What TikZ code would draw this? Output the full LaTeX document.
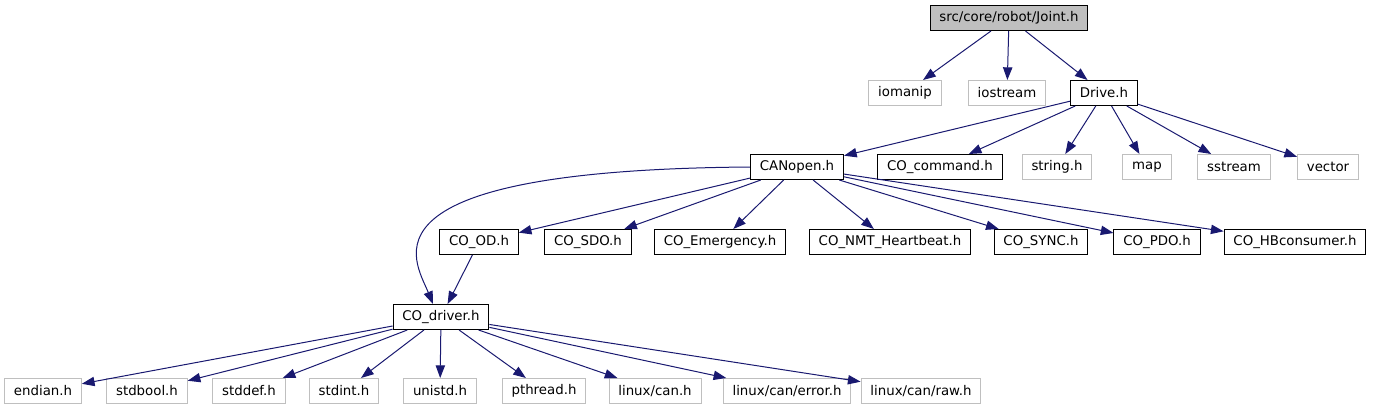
\documentclass[tikz,border=0pt]{standalone}
\usepackage{fontspec}
\setmainfont{DejaVu Sans}
\usetikzlibrary{arrows.meta}
\definecolor{Jedgecol}{HTML}{191970}
\definecolor{Jgray}{HTML}{BFBFBF}
\tikzset{Jbox/.style={draw=black,fill=white,line width=0.75pt,inner xsep=7pt,inner ysep=0pt,
           minimum height=18.75pt,font=\fontsize{10}{12}\selectfont},
         Jsys/.style={Jbox,draw=Jgray},
         Jtop/.style={Jbox,fill=Jgray},
         Jedge/.style={draw=Jedgecol,line width=0.75pt,-{Triangle[length=9.5pt,width=7pt]}}}
\begin{document}
\begin{tikzpicture}[x=0.75pt,y=-0.75pt]
    \useasboundingbox (0,0) rectangle (1373,411);
    \node[Jtop] (joint) at (1009,18) {src/core/robot/Joint.h};
    \foreach \x/\n/\l in {905/iomanip/iomanip,1007/iostream/iostream}
      {\node[Jsys] (\n) at (\x,93) {\l};}
    \node[Jbox] (drive) at (1104,93) {Drive.h};
    \foreach \x/\n/\l in {797/canopen/CANopen.h,940/cocommand/CO\_command.h}
      {\node[Jbox] (\n) at (\x,167) {\l};}
    \foreach \x/\n/\l in {1057/string/string.h,1147/map/map,1234/sstream/sstream,1328/vector/vector}
      {\node[Jsys] (\n) at (\x,167) {\l};}
    \foreach \x/\n/\l in {479/cood/CO\_OD.h,588/cosdo/CO\_SDO.h,720/coemcy/CO\_Emergency.h,
        890/conmt/CO\_NMT\_Heartbeat.h,1041/cosync/CO\_SYNC.h,1157/copdo/CO\_PDO.h,1295/cohb/CO\_HBconsumer.h}
      {\node[Jbox] (\n) at (\x,242) {\l};}
    \node[Jbox] (codriver) at (441,317) {CO\_driver.h};
    \foreach \x/\n/\l in {43/endian/endian.h,147/stdbool/stdbool.h,249/stddef/stddef.h,344/stdint/stdint.h,
        440/unistd/unistd.h,544/pthread/pthread.h,655/lcan/{linux/can.h},787/lerror/{linux/can/error.h},921/lraw/{linux/can/raw.h}}
      {\node[Jsys] (\n) at (\x,391) {\l};}
    % includes
    \foreach \t in {iomanip,iostream,drive} \draw[Jedge] (joint) -- (\t);
    \foreach \t in {canopen,cocommand,string,map,sstream,vector} \draw[Jedge] (drive) -- (\t);
    \foreach \t in {cood,cosdo,coemcy,conmt,cosync,copdo,cohb} \draw[Jedge] (canopen) -- (\t);
    \draw[Jedge] (canopen.west) .. controls (350,170) and (415,260) .. ([xshift=-6pt]codriver.north);
    \draw[Jedge] (cood) -- (codriver);
    \foreach \t in {endian,stdbool,stddef,stdint,unistd,pthread,lcan,lerror,lraw} \draw[Jedge] (codriver) -- (\t);
  \end{tikzpicture}
\end{document}
